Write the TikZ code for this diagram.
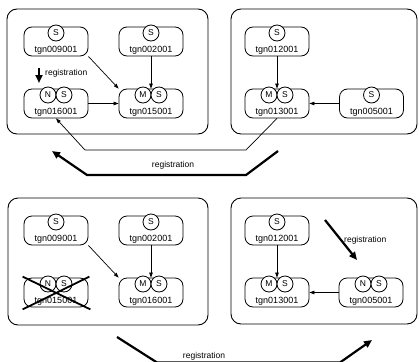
\documentclass[tikz,border=0pt]{standalone}
\usepackage{fontspec}
\setmainfont{Liberation Sans}
\usetikzlibrary{arrows.meta,calc}
\tikzset{
  grp/.style={draw, line width=0.9pt, rounded corners=10pt},
  nbox/.style={draw, line width=0.8pt, rounded corners=8pt, minimum width=64pt, minimum height=29pt, inner sep=0pt},
  circ/.style={draw, circle, line width=0.8pt, minimum size=16pt, inner sep=0pt, fill=white, font=\fontsize{8.5}{9}\selectfont},
  lbl/.style={font=\fontsize{8.5}{9}\selectfont, inner sep=0pt},
  nlbl/.style={font=\fontsize{9}{10}\selectfont, inner sep=0pt},
  thinarrow/.style={line width=0.7pt, -{Triangle[length=5pt,width=3.5pt]}},
  thickarrow/.style={line width=2.2pt, -{Triangle[length=8pt,width=7pt]}},
  crossline/.style={line width=1.8pt},
}
\newcommand{\singlenode}[4]{%
  \node[nbox] (#1) at (#2,#3) {};
  \node[circ] (#1s) at ($(#1)+(0,-8.5)$) {S};
  \node[nlbl] (#1t) at ($(#1)+(0,8.5)$) {#4};
}
\newcommand{\doublenode}[5]{%
  \node[nbox] (#1) at (#2,#3) {};
  \node[circ] (#1a) at ($(#1)+(-8,-8.5)$) {#4};
  \node[circ] (#1s) at ($(#1)+(8,-8.5)$) {S};
  \node[nlbl] (#1t) at ($(#1)+(0,8.5)$) {#5};
}
\begin{document}
\begin{tikzpicture}[x=1pt,y=-1pt]
\useasboundingbox (0,0) rectangle (419,361);
\clip (0,0) rectangle (419,361);
% group boxes
\draw[grp] (7,9) rectangle (208,134);
\draw[grp] (231,9) rectangle (417,134);
\draw[grp] (8,198) rectangle (208,325);
\draw[grp] (231,198) rectangle (417,324);
% top-left
\singlenode{A1}{56}{41.5}{tgn009001}
\singlenode{A2}{151}{41.5}{tgn002001}
\doublenode{A3}{56}{103.5}{N}{tgn016001}
\doublenode{A4}{151}{103.5}{M}{tgn015001}
\draw[thinarrow] (A1.south east) -- (A4.north west);
\draw[thinarrow] (A2.south) -- (A4.north);
\draw[thinarrow] (A3.east) -- (A4.west);
\coordinate (r1s) at (39,68);
\coordinate (r1e) at (39,83);
\draw[thickarrow] (r1s) -- (r1e);
\node[lbl, anchor=west] (r1l) at (45,73) {registration};
% top-right
\singlenode{B1}{277}{41.5}{tgn012001}
\doublenode{B2}{277}{103.5}{M}{tgn013001}
\singlenode{B3}{371.5}{103.5}{tgn005001}
\draw[thinarrow] (B1.south) -- (B2.north);
\draw[thinarrow] (B3.west) -- (B2.east);
% connection between top groups
\draw[thinarrow] (B2.south) -- (246,150) -- (85,150) -- (A3.south);
\coordinate (r2s) at (278,151);
\coordinate (r2e) at (52,151);
\draw[thickarrow] (r2s) -- (246,175) -- (87,175) -- (r2e);
\node[lbl] (r2l) at (173,165) {registration};
% bottom-left
\singlenode{C1}{56}{230.5}{tgn009001}
\singlenode{C2}{151}{230.5}{tgn002001}
\doublenode{C3}{56}{292.5}{N}{tgn015001}
\doublenode{C4}{151}{292.5}{M}{tgn016001}
\draw[thinarrow] (C1.south east) -- (C4.north west);
\draw[thinarrow] (C2.south) -- (C4.north);
\draw[crossline] ($(C3.north west)+(-1,-1)$) -- ($(C3.south east)+(2,2)$);
\draw[crossline] ($(C3.south west)+(-1,2)$) -- ($(C3.north east)+(1,-1)$);
% bottom-right
\singlenode{D1}{277}{230.5}{tgn012001}
\doublenode{D2}{277}{292.5}{M}{tgn013001}
\doublenode{D3}{371}{292.5}{N}{tgn005001}
\draw[thinarrow] (D1.south) -- (D2.north);
\draw[thinarrow] (D3.west) -- (D2.east);
\coordinate (r3s) at (325,220);
\coordinate (r3e) at (357,260);
\draw[thickarrow] (r3s) -- (r3e);
\node[lbl, anchor=west] (r3l) at (344,240) {registration};
% bottom registration
\coordinate (r4s) at (117,337);
\coordinate (r4e) at (372,340);
\draw[thickarrow] (r4s) -- (157,362.5) -- (340,362.5) -- (r4e);
\node[lbl] (r4l) at (204,356) {registration};
\end{tikzpicture}
\end{document}
